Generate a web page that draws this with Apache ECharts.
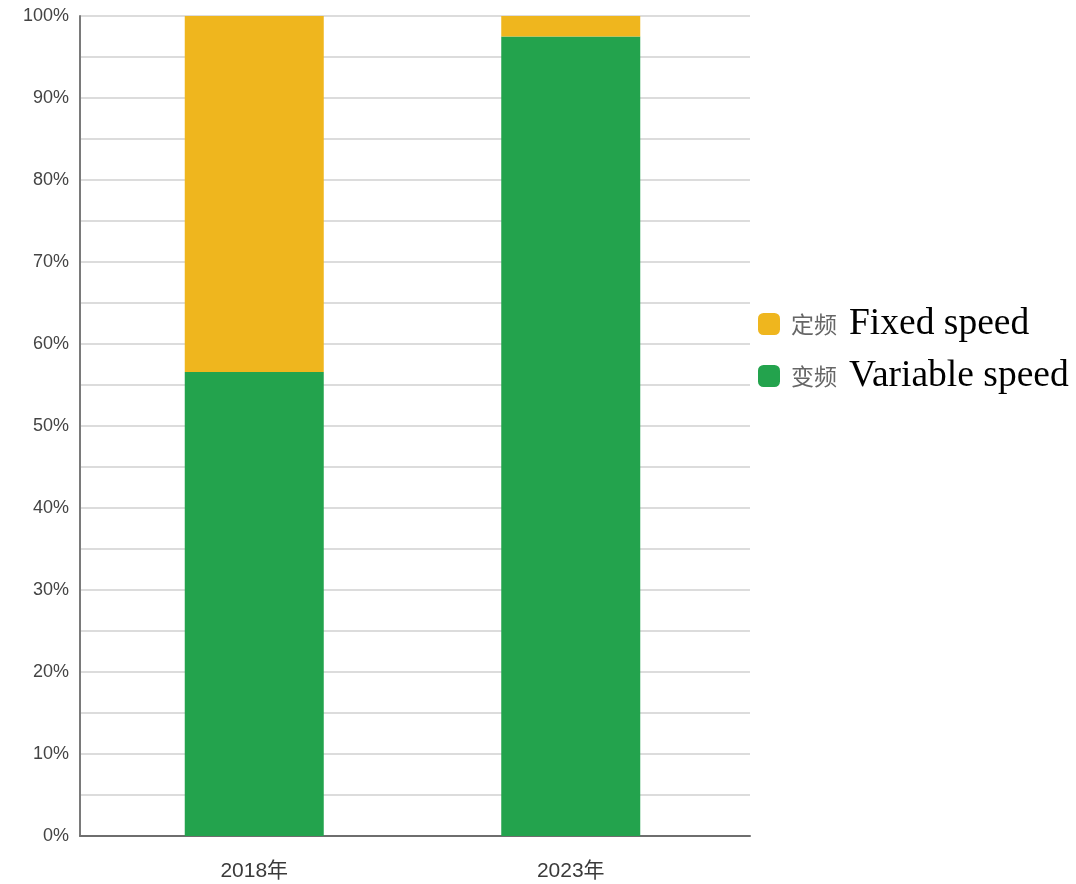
<!DOCTYPE html>
<html>
<head>
<meta charset="utf-8">
<script src="https://cdn.jsdelivr.net/npm/echarts@6/dist/echarts.min.js"></script>
<style>html,body{margin:0;padding:0;background:#fff}#c{width:1076px;height:884px}</style>
</head>
<body>
<div id="c"></div>
<script>
var categories = ['2018年', '2023年'];
var variableSpeed = [56.6, 97.5];
var fixedSpeed = [43.4, 2.5];
var seriesNames = ['定频', '变频'];
var seriesEnglish = ['Fixed speed', 'Variable speed'];
var yTicks = [0, 10, 20, 30, 40, 50, 60, 70, 80, 90, 100];

var chart = echarts.init(document.getElementById('c'), null, {renderer: 'canvas'});
var labelFont = '"Liberation Sans", Arial, "Noto Sans CJK SC", sans-serif';
chart.setOption({
  animation: false,
  backgroundColor: '#fff',
  grid: [
    {left: 80, right: 326, top: 16, bottom: 48},
    {left: 96, right: 347, top: 16, bottom: 48}
  ],
  legend: {
    orient: 'vertical',
    left: 758,
    top: 305,
    padding: 0,
    itemWidth: 22,
    itemHeight: 22,
    itemGap: 14,
    icon: 'roundRect',
    data: seriesNames,
    formatter: function (name) {
      var i = seriesNames.indexOf(name);
      return '{a|' + name + '}{b|' + seriesEnglish[i] + '}';
    },
    textStyle: {
      rich: {
        a: {fontSize: 23, color: '#666', fontFamily: '"Noto Sans CJK SC", sans-serif', padding: [0, 12, 0, 6], lineHeight: 40},
        b: {fontSize: 37.5, color: '#000', fontFamily: '"Liberation Serif", "Times New Roman", serif', lineHeight: 40}
      }
    }
  },
  xAxis: [
    {
      gridIndex: 0, type: 'category', data: categories,
      axisLine: {show: true, lineStyle: {color: '#6e6e6e', width: 2}},
      axisTick: {show: false}, axisLabel: {show: false}, splitLine: {show: false}
    },
    {
      gridIndex: 1, type: 'category', data: categories,
      axisLine: {show: false}, axisTick: {show: false},
      axisLabel: {show: true, color: '#3a3a3a', fontSize: 21, margin: 25, fontFamily: labelFont}
    }
  ],
  yAxis: [
    {
      gridIndex: 0, type: 'value', min: 0, max: 100, interval: 5,
      axisLine: {show: true, lineStyle: {color: '#7a7a7a', width: 2}},
      axisTick: {show: false},
      axisLabel: {
        color: '#444', fontSize: 18, margin: 11, fontFamily: labelFont, padding: [7, 0, 0, 0],
        formatter: function (v) { return yTicks.indexOf(v) >= 0 ? v + '%' : ''; }
      },
      splitLine: {show: true, lineStyle: {color: '#dcdcdc', width: 2}}
    },
    {
      gridIndex: 1, type: 'value', min: 0, max: 100,
      show: false, splitLine: {show: false}
    }
  ],
  series: [
    {
      name: seriesNames[1], type: 'bar', stack: 'total', xAxisIndex: 1, yAxisIndex: 1,
      data: variableSpeed, barWidth: 139, itemStyle: {color: '#23a34d'}
    },
    {
      name: seriesNames[0], type: 'bar', stack: 'total', xAxisIndex: 1, yAxisIndex: 1,
      data: fixedSpeed, barWidth: 139, itemStyle: {color: '#efb61e'}
    }
  ]
});
</script>
</body>
</html>
